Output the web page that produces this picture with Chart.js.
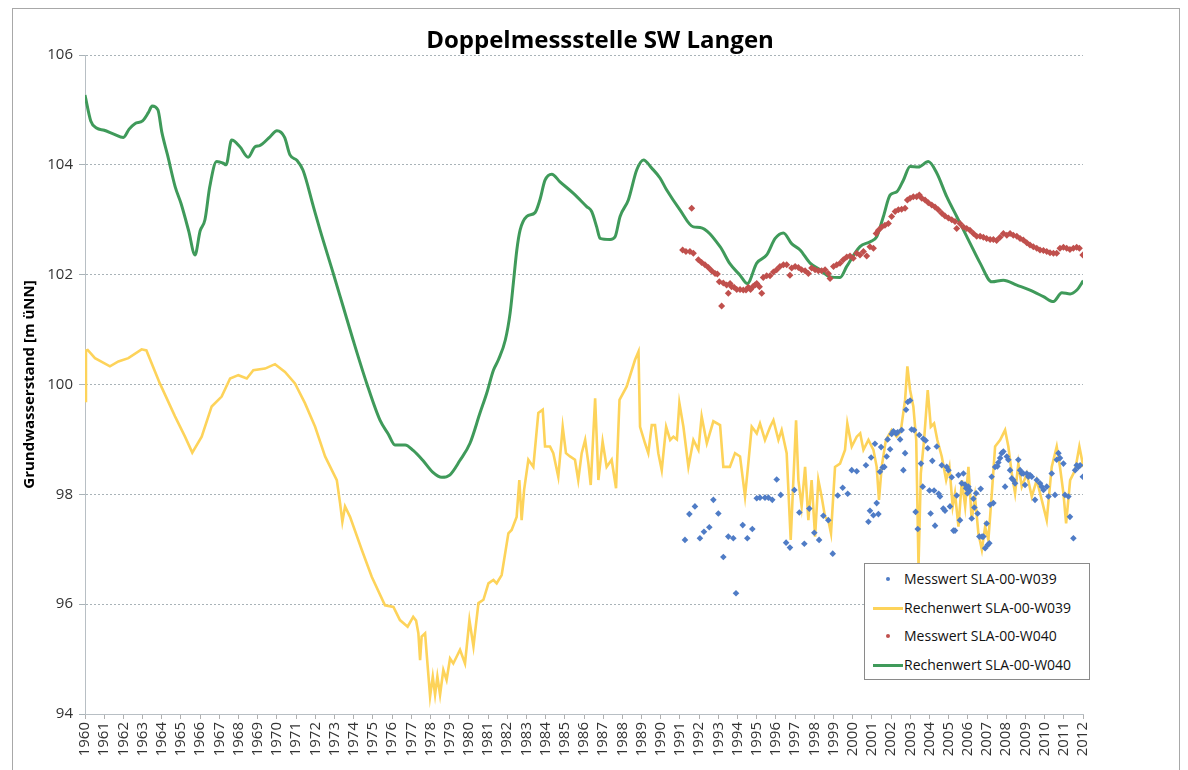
<!DOCTYPE html>
<html>
<head>
<meta charset="utf-8">
<script src="https://cdn.jsdelivr.net/npm/chart.js@4.4.1/dist/chart.umd.min.js"></script>
<style>
html,body{margin:0;padding:0;background:#fff;}
#wrap{position:relative;width:1188px;height:770px;overflow:hidden;}
#legend{position:absolute;left:864px;top:563px;width:226px;height:117px;box-sizing:border-box;border:1px solid #8a8a8a;background:#fff;font-family:"Open Sans",sans-serif;font-size:14px;color:#111;padding-top:1px;}
#legend .row{position:relative;height:28.5px;line-height:28.5px;}
#legend .mk{position:absolute;left:8px;top:0;width:30px;height:28.5px;}
#legend .txt{position:absolute;left:39px;top:0;white-space:nowrap;}
</style>
</head>
<body>
<div id="wrap">
<canvas id="c" width="1188" height="770"></canvas>
<div id="legend"></div>
</div>
<script>
// ---- DATA ----
const chartTitle = 'Doppelmessstelle SW Langen';
const yAxisTitle = 'Grundwasserstand [m üNN]';
const seriesNames = ['Messwert SLA-00-W039','Rechenwert SLA-00-W039','Messwert SLA-00-W040','Rechenwert SLA-00-W040'];
const tickYears = [1960,1961,1962,1963,1964,1965,1966,1967,1968,1969,1970,1971,1972,1973,1974,1975,1976,1977,1978,1979,1980,1981,1982,1983,1984,1985,1986,1987,1988,1989,1990,1991,1992,1993,1994,1995,1996,1997,1998,1999,2000,2001,2002,2003,2004,2005,2006,2007,2008,2009,2010,2011,2012];
const yTicks = [94,96,98,100,102,104,106];

// Rechenwert SLA-00-W040 (green line)
const calcW040Years = [1960.0,1960.3,1960.6,1961.0,1961.5,1962.0,1962.3,1962.6,1963.0,1963.3,1963.5,1963.8,1964.0,1964.3,1964.7,1965.0,1965.4,1965.73,1966.0,1966.25,1966.5,1966.86,1967.2,1967.35,1967.64,1968.07,1968.5,1968.86,1969.1,1969.64,1970.0,1970.4,1970.68,1971.05,1971.36,1971.9,1972.25,1972.93,1973.45,1973.97,1974.68,1975.37,1975.8,1976.15,1976.68,1977.1,1977.6,1978.1,1978.59,1979.0,1979.54,1980.06,1980.58,1980.93,1981.28,1981.54,1981.9,1982.15,1982.32,1982.5,1982.67,1983.02,1983.45,1983.7,1983.97,1984.32,1984.75,1985.45,1986.14,1986.4,1986.66,1986.84,1987.36,1987.62,1987.88,1988.31,1988.75,1989.1,1989.53,1989.96,1990.31,1991.0,1991.7,1992.05,1993.09,1993.6,1994.13,1994.51,1995.0,1995.52,1995.96,1996.39,1996.83,1997.26,1997.78,1998.3,1998.82,1999.34,1999.69,2000.38,2000.91,2001.25,2001.6,2001.95,2002.3,2002.64,2002.99,2003.42,2003.94,2004.38,2004.9,2005.42,2006.12,2006.64,2007.25,2007.85,2008.55,2009.24,2009.94,2010.46,2010.9,2011.33,2011.68,2012.02];
const calcW040Values = [105.27,104.8,104.67,104.63,104.56,104.5,104.65,104.75,104.8,104.95,105.07,105.0,104.6,104.18,103.6,103.3,102.8,102.36,102.8,103.0,103.6,104.06,104.03,104.0,104.45,104.33,104.14,104.33,104.35,104.51,104.62,104.5,104.18,104.08,103.9,103.24,102.81,102.03,101.42,100.81,100.02,99.35,99.1,98.9,98.9,98.8,98.62,98.41,98.31,98.35,98.62,98.93,99.48,99.84,100.26,100.45,100.81,101.3,101.85,102.45,102.81,103.06,103.13,103.36,103.72,103.83,103.69,103.48,103.24,103.15,102.87,102.66,102.64,102.69,103.06,103.36,103.91,104.09,103.94,103.76,103.54,103.18,102.87,102.86,102.51,102.2,101.99,101.84,102.21,102.36,102.66,102.76,102.56,102.45,102.21,102.09,101.96,101.95,102.15,102.51,102.6,102.69,103.06,103.45,103.51,103.72,103.97,103.96,104.06,103.85,103.42,103.06,102.57,102.21,101.87,101.9,101.81,101.72,101.6,101.51,101.67,101.65,101.72,101.89];

// Rechenwert SLA-00-W039 (yellow line)
const calcW039Years = [1960.0,1960.05,1960.14,1960.52,1961.3,1961.74,1962.26,1962.95,1963.2,1963.9,1964.69,1965.21,1965.59,1966.08,1966.6,1967.12,1967.56,1967.99,1968.43,1968.77,1969.38,1969.9,1970.42,1970.94,1971.46,1971.99,1972.51,1973.12,1973.29,1973.41,1973.55,1973.81,1974.42,1974.94,1975.63,1976.07,1976.41,1976.81,1977.1,1977.25,1977.37,1977.46,1977.54,1977.72,1977.8,1977.98,1978.12,1978.24,1978.36,1978.5,1978.67,1978.84,1979.02,1979.19,1979.54,1979.8,1980.03,1980.24,1980.5,1980.76,1981.02,1981.28,1981.45,1981.71,1982.06,1982.23,1982.49,1982.63,1982.75,1982.88,1983.1,1983.36,1983.62,1983.85,1983.97,1984.23,1984.4,1984.66,1984.89,1985.06,1985.27,1985.53,1985.7,1985.88,1986.06,1986.23,1986.35,1986.58,1986.75,1986.97,1987.18,1987.44,1987.67,1987.85,1988.22,1988.66,1988.84,1988.92,1989.18,1989.35,1989.53,1989.7,1989.87,1990.05,1990.28,1990.49,1990.66,1990.84,1990.97,1991.18,1991.44,1991.7,1991.96,1992.13,1992.4,1992.74,1993.09,1993.26,1993.6,1993.87,1994.13,1994.39,1994.56,1994.74,1995.0,1995.17,1995.43,1995.7,1995.87,1996.13,1996.3,1996.56,1996.77,1996.91,1997.05,1997.17,1997.34,1997.52,1997.69,1997.86,1998.04,1998.21,1998.38,1998.56,1998.73,1998.87,1999.08,1999.34,1999.6,1999.72,1999.95,2000.21,2000.39,2000.56,2000.82,2001.08,2001.25,2001.37,2001.51,2001.73,2002.03,2002.29,2002.5,2002.73,2002.85,2002.99,2003.16,2003.31,2003.43,2003.55,2003.72,2003.91,2004.07,2004.24,2004.41,2004.64,2004.87,2005.04,2005.21,2005.33,2005.51,2005.69,2005.86,2006.03,2006.2,2006.37,2006.55,2006.73,2006.9,2007.07,2007.25,2007.42,2007.68,2007.94,2008.11,2008.29,2008.46,2008.63,2008.81,2009.07,2009.33,2009.59,2009.85,2010.11,2010.37,2010.63,2010.8,2010.98,2011.12,2011.33,2011.59,2011.81,2012.02];
const calcW039Values = [99.7,100.62,100.63,100.48,100.33,100.42,100.48,100.64,100.62,100.02,99.42,99.05,98.76,99.05,99.6,99.78,100.11,100.17,100.11,100.26,100.29,100.37,100.23,100.02,99.66,99.23,98.69,98.26,97.84,97.5,97.78,97.59,96.99,96.5,95.98,95.95,95.71,95.59,95.77,95.7,95.47,94.98,95.41,95.47,95.11,94.32,94.68,94.35,94.68,94.35,94.8,94.62,95.01,94.92,95.17,94.92,95.71,95.23,96.02,96.08,96.38,96.44,96.38,96.53,97.29,97.35,97.59,98.26,97.53,98.08,98.63,98.5,99.48,99.54,98.87,98.87,98.75,98.32,99.23,98.75,98.69,98.63,98.26,98.75,98.99,98.56,98.17,99.75,98.26,98.96,98.5,98.63,98.11,99.72,99.96,100.45,100.6,99.23,98.93,98.75,99.26,99.26,98.75,98.44,99.23,98.99,99.05,99.0,99.66,99.23,98.5,98.99,98.81,99.42,98.93,99.33,99.26,98.5,98.5,98.75,98.69,97.96,98.56,99.23,99.11,99.29,98.99,99.23,99.35,98.99,99.17,98.75,97.17,98.26,99.35,98.26,97.78,98.5,97.53,98.26,97.23,98.26,97.96,97.59,97.53,97.29,98.5,98.56,98.81,99.29,98.87,99.05,99.11,98.81,98.99,98.81,98.5,97.9,98.5,98.99,99.17,99.05,99.14,99.72,100.33,99.9,99.6,98.99,96.68,98.38,98.99,99.9,99.23,99.29,98.99,98.69,98.26,98.5,97.78,98.02,97.41,98.26,97.78,98.5,97.53,97.96,97.29,96.99,97.41,97.17,98.02,98.87,98.99,99.17,98.87,98.38,98.02,98.56,98.14,98.38,97.96,98.26,97.9,97.53,98.5,98.87,98.5,98.02,97.47,98.26,98.44,98.87,98.5];

// Messwert SLA-00-W039 (blue points)
const measW039Years = [1991.26,1991.49,1991.78,1992.04,1992.25,1992.53,1992.74,1993.0,1993.26,1993.52,1993.78,1993.92,1994.27,1994.51,1994.77,1995.0,1995.17,1995.43,1995.61,1995.81,1996.04,1996.25,1996.53,1996.73,1996.96,1997.22,1997.48,1997.74,1998.0,1998.25,1998.47,1998.73,1998.96,1999.22,1999.48,1999.74,1999.95,2000.21,2000.69,2000.82,2000.9,2000.96,2001.08,2001.16,2001.25,2001.34,2001.42,2001.48,2001.56,2001.65,2001.77,2001.82,2001.95,2002.03,2002.12,2002.26,2002.34,2002.47,2002.55,2002.64,2002.73,2002.78,2002.87,2002.99,2003.07,2003.2,2003.28,2003.39,2003.47,2003.56,2003.65,2003.68,2003.8,2003.91,2004.0,2004.06,2004.15,2004.24,2004.29,2004.38,2004.48,2004.55,2004.64,2004.72,2004.81,2004.9,2004.99,2005.07,2005.16,2005.25,2005.33,2005.42,2005.51,2005.59,2005.68,2005.77,2005.85,2005.91,2005.98,2006.03,2006.11,2006.2,2006.29,2006.34,2006.43,2006.51,2006.6,2006.67,2006.74,2006.81,2006.9,2006.98,2007.04,2007.12,2007.16,2007.24,2007.33,2007.42,2007.54,2007.59,2007.68,2007.76,2007.85,2007.94,2008.03,2008.11,2008.2,2008.29,2008.37,2008.46,2008.63,2008.72,2008.81,2008.89,2008.98,2009.07,2009.15,2009.24,2009.33,2009.5,2009.59,2009.76,2009.85,2009.94,2010.11,2010.2,2010.37,2010.54,2010.63,2010.72,2010.8,2010.98,2011.06,2011.24,2011.32,2011.5,2011.59,2011.67,2011.76,2011.85,2011.99];
const measW039Values = [97.17,97.64,97.78,97.2,97.32,97.4,97.9,97.65,96.86,97.23,97.2,96.2,97.44,97.2,97.37,97.93,97.94,97.94,97.94,97.9,98.27,97.99,97.12,97.03,98.08,97.67,97.1,97.74,97.3,97.17,97.61,97.53,96.92,97.98,98.12,98.01,98.44,98.42,98.53,97.5,97.7,98.67,97.62,98.92,97.84,97.64,98.41,98.86,98.49,98.5,98.69,99.0,98.82,99.1,99.15,99.11,99.13,99.0,99.17,98.44,98.75,99.54,99.68,99.71,99.18,99.17,97.68,97.37,99.08,98.56,98.14,99.01,98.98,98.84,98.07,97.65,98.61,98.07,97.43,98.87,98.01,97.96,98.53,97.74,97.7,98.5,98.44,97.78,98.31,97.34,97.34,97.98,98.35,97.53,98.2,98.38,98.18,98.11,98.02,98.14,98.07,97.56,97.92,97.76,98.02,97.65,97.23,98.1,97.23,97.23,97.02,97.47,97.08,97.11,97.81,98.32,97.84,98.5,98.51,98.58,98.66,98.75,98.78,98.14,98.69,98.63,98.44,98.29,98.26,98.2,98.63,98.44,98.38,98.38,98.17,98.38,98.32,98.35,98.32,97.9,98.26,98.2,98.14,98.08,98.14,97.96,98.38,97.99,98.63,98.75,98.66,98.56,97.99,97.96,97.59,97.2,98.44,98.53,98.5,98.53,98.32];

// Messwert SLA-00-W040 (red points)
const measW040Years = [1991.14,1991.31,1991.52,1991.61,1991.7,1991.96,1992.13,1992.3,1992.48,1992.65,1992.83,1992.95,1993.05,1993.17,1993.26,1993.43,1993.52,1993.61,1993.69,1993.82,1993.96,1994.13,1994.3,1994.44,1994.56,1994.68,1994.82,1994.91,1995.0,1995.14,1995.26,1995.34,1995.52,1995.69,1995.87,1996.04,1996.21,1996.39,1996.56,1996.73,1996.82,1997.0,1997.17,1997.34,1997.52,1997.69,1997.86,1998.04,1998.21,1998.38,1998.56,1998.73,1998.82,1999.0,1999.17,1999.34,1999.51,1999.69,1999.86,2000.03,2000.21,2000.38,2000.56,2000.73,2000.9,2001.08,2001.22,2001.34,2001.51,2001.68,2001.86,2002.03,2002.21,2002.38,2002.55,2002.73,2002.85,2002.99,2003.16,2003.33,2003.47,2003.6,2003.77,2003.94,2004.12,2004.29,2004.46,2004.64,2004.81,2004.99,2005.16,2005.33,2005.42,2005.59,2005.77,2005.94,2006.11,2006.29,2006.46,2006.64,2006.81,2006.98,2007.16,2007.33,2007.5,2007.68,2007.85,2008.03,2008.2,2008.37,2008.55,2008.72,2008.89,2009.07,2009.24,2009.41,2009.59,2009.76,2009.94,2010.11,2010.28,2010.46,2010.63,2010.8,2010.98,2011.15,2011.32,2011.5,2011.67,2011.81,2011.99];
const measW040Values = [102.45,102.42,102.42,103.21,102.39,102.27,102.22,102.18,102.13,102.07,102.02,102.01,101.87,101.43,101.85,101.81,101.66,101.84,101.78,101.77,101.73,101.73,101.72,101.72,101.77,101.73,101.79,101.81,101.84,101.78,101.66,101.95,101.98,101.98,102.05,102.09,102.15,102.18,102.18,101.99,102.12,102.15,102.13,102.09,102.07,102.02,102.12,102.09,102.07,102.07,102.09,102.02,101.93,102.15,102.18,102.21,102.27,102.32,102.34,102.3,102.39,102.36,102.42,102.34,102.51,102.48,102.75,102.81,102.87,102.9,102.93,103.06,103.15,103.18,103.19,103.21,103.36,103.39,103.42,103.42,103.45,103.39,103.36,103.31,103.27,103.23,103.18,103.12,103.07,103.03,103.0,102.97,102.84,102.93,102.87,102.84,102.81,102.75,102.7,102.7,102.68,102.66,102.64,102.64,102.62,102.68,102.75,102.72,102.75,102.72,102.7,102.66,102.63,102.58,102.54,102.51,102.48,102.45,102.44,102.42,102.4,102.39,102.39,102.48,102.5,102.48,102.46,102.48,102.5,102.48,102.36];

// ---- COLOURS ----
const colBlue = '#4f7cc6';
const colYellow = '#fdd35a';
const colRed = '#c0504d';
const colGreen = '#3f9a5a';

function pairs(xs, ys){ return xs.map((x,i)=>({x:x, y:ys[i]})); }

const framePlugin = {
  id:'frame',
  beforeDraw(chart){
    const c = chart.ctx;
    c.save();
    c.fillStyle = '#fff';
    c.fillRect(0,0,chart.width,chart.height);
    c.strokeStyle = '#a8a8a8';
    c.lineWidth = 1;
    c.strokeRect(12.5, 8.5, 1167, 790);
    c.restore();
  },
  afterDraw(chart){
    const c = chart.ctx;
    c.save();
    c.font = 'bold 24px "Open Sans", sans-serif';
    c.fillStyle = '#000';
    c.textAlign = 'center';
    c.textBaseline = 'alphabetic';
    c.fillText(chartTitle, 600, 48);
    c.restore();
  }
};

const ctx = document.getElementById('c').getContext('2d');
const chart = new Chart(ctx, {
  type: 'scatter',
  data: {
    datasets: [
      {label: seriesNames[0], data: pairs(measW039Years, measW039Values), showLine:false, pointStyle:'rectRot', pointRadius:3.3, pointBorderWidth:0, backgroundColor:colBlue, borderColor:colBlue},
      {label: seriesNames[1], data: pairs(calcW039Years, calcW039Values), showLine:true, pointRadius:0, borderColor:colYellow, backgroundColor:colYellow, borderWidth:2.6, tension:0},
      {label: seriesNames[2], data: pairs(measW040Years, measW040Values), showLine:false, pointStyle:'rectRot', pointRadius:3.5, pointBorderWidth:0, backgroundColor:colRed, borderColor:colRed},
      {label: seriesNames[3], data: pairs(calcW040Years, calcW040Values), showLine:true, pointRadius:0, borderColor:colGreen, backgroundColor:colGreen, borderWidth:3, cubicInterpolationMode:'monotone'}
    ]
  },
  options: {
    responsive:false,
    animation:false,
    layout:{padding:{left:12, right:105, top:55, bottom:0}},
    plugins:{legend:{display:false}, tooltip:{enabled:false}, title:{display:false}},
    scales:{
      x:{
        type:'linear', min:1960, max:2012,
        afterBuildTicks(s){ s.ticks = tickYears.map(v=>({value:v})); },
        afterFit(s){ s.height = 56; },
        ticks:{autoSkip:false, minRotation:90, maxRotation:90, padding:3, color:'#333', font:{family:'"Open Sans", sans-serif', size:15}, callback:(v)=>String(v)},
        grid:{drawOnChartArea:false, drawTicks:true, tickLength:5, color:'#b0b0b0'},
        border:{display:true, color:'#b8bfc4'}
      },
      y:{
        min:94, max:106,
        afterBuildTicks(s){ s.ticks = yTicks.map(v=>({value:v})); },
        afterFit(s){ s.width = 73; },
        ticks:{padding:6, color:'#333', font:{family:'"Open Sans", sans-serif', size:15}, callback:(v)=>String(v)},
        grid:{color:'#a9b3b8', tickLength:6, lineWidth:1},
        border:{display:true, color:'#b8bfc4', dash:[2,2]},
        title:{display:true, text:yAxisTitle, color:'#000', padding:{top:9,bottom:0}, font:{family:'"Open Sans", sans-serif', size:15, weight:'bold'}}
      }
    }
  },
  plugins:[framePlugin]
});

// HTML legend built from the datasets
const leg = document.getElementById('legend');
chart.data.datasets.forEach(ds=>{
  const row = document.createElement('div'); row.className='row';
  const mk = document.createElement('div'); mk.className='mk';
  if (ds.showLine) {
    mk.innerHTML = '<div style="position:absolute;left:0;top:13px;width:30px;height:3px;background:'+ds.borderColor+'"></div>';
  } else {
    mk.innerHTML = '<div style="position:absolute;left:13px;top:12px;width:4px;height:4px;border-radius:2px;background:'+ds.backgroundColor+'"></div>';
  }
  const tx = document.createElement('div'); tx.className='txt'; tx.textContent = ds.label;
  row.appendChild(mk); row.appendChild(tx); leg.appendChild(row);
});
</script>
</body>
</html>
